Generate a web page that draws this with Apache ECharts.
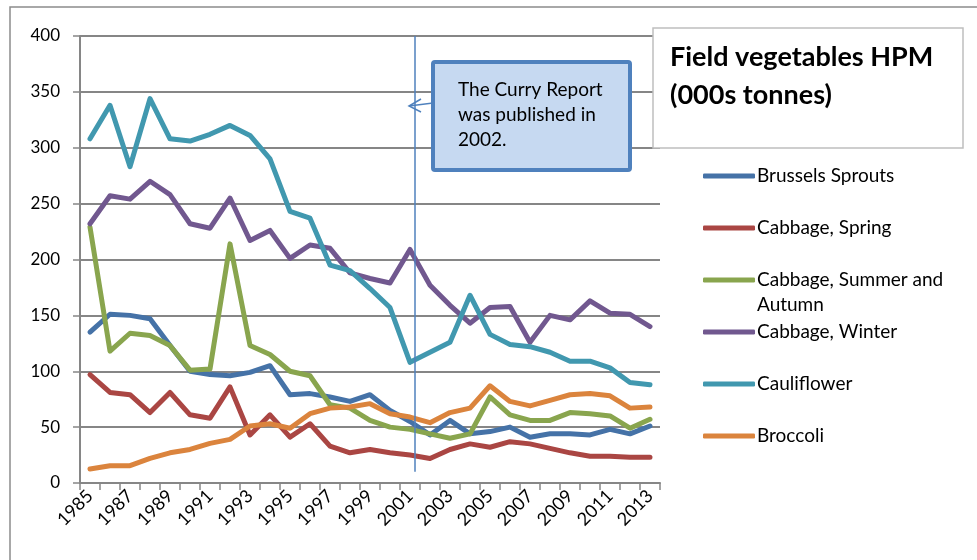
<!DOCTYPE html>
<html>
<head>
<meta charset="utf-8">
<script src="https://cdn.jsdelivr.net/npm/echarts@6/dist/echarts.min.js"></script>
<style>
  html, body { margin: 0; padding: 0; background: #fff; }
  #chart { width: 977px; height: 560px; }
</style>
</head>
<body>
<div id="chart"></div>
<script>
const years = ['1985','1986','1987','1988','1989','1990','1991','1992','1993','1994',
  '1995','1996','1997','1998','1999','2000','2001','2002','2003','2004',
  '2005','2006','2007','2008','2009','2010','2011','2012','2013'];

const brussels = [135,151,150,147,123,100,97,96,99,105,79,80,77,73,79,65,55,43,56,44,46,50,41,44,44,43,48,44,51];
const cabbageSpring = [97,81,79,63,81,61,58,86,43,61,41,53,33,27,30,27,25,22,30,35,32,37,35,31,27,24,24,23,23];
const cabbageSummer = [229,118,134,132,123,101,102,214,123,115,100,96,70,67,56,50,48,44,40,44,77,61,56,56,63,62,60,49,57];
const cabbageWinter = [232,257,254,270,258,232,228,255,217,226,201,213,210,188,183,179,209,177,159,143,157,158,126,150,146,163,152,151,140];
const cauliflower = [308,338,283,344,308,306,312,320,311,290,243,237,195,190,174,157,108,117,126,168,133,124,122,117,109,109,103,90,88];
const broccoli = [12.5,15.5,15.5,22,27,30,35.5,39,51,53,49,62,67,68,71,62,59,54,63,67,87,73,69,74,79,80,78,67,68];

const seriesNames = ['Brussels Sprouts','Cabbage, Spring','Cabbage, Summer and','Cabbage, Winter','Cauliflower','Broccoli'];
const seriesData = [brussels, cabbageSpring, cabbageSummer, cabbageWinter, cauliflower, broccoli];
const colors = ['#4572A7','#AA4643','#89A54E','#71588F','#4198AF','#DB843D'];

const font = 'Lato, "Open Sans", sans-serif';
const gray = '#868686';

const chart = echarts.init(document.getElementById('chart'));

chart.setOption({
  animation: false,
  color: colors,
  textStyle: { fontFamily: font },
  grid: { left: 80, right: 317, top: 36, bottom: 77 },
  legend: {
    orient: 'vertical',
    left: 698,
    top: 161,
    icon: 'roundRect',
    itemWidth: 52,
    itemHeight: 5,
    itemGap: 32,
    selectedMode: false,
    textStyle: { fontSize: 19, color: '#000', lineHeight: 20, fontFamily: font, padding: [0, 0, 0, -3] },
    data: seriesNames
  },
  xAxis: {
    type: 'category',
    data: years,
    boundaryGap: true,
    axisLine: { lineStyle: { color: gray, width: 2 } },
    axisTick: { show: true, interval: 0, length: 7, lineStyle: { color: gray, width: 1.5 } },
    axisLabel: { interval: 1, rotate: 45, fontSize: 18, color: '#000', margin: 10, fontFamily: font },
    splitLine: { show: false }
  },
  yAxis: {
    type: 'value',
    min: 0,
    max: 400,
    interval: 50,
    axisLine: { show: true, lineStyle: { color: gray, width: 2 } },
    axisTick: { show: true, length: 7, lineStyle: { color: gray, width: 1.5 } },
    axisLabel: { fontSize: 17, color: '#000', margin: 20, fontFamily: font },
    splitLine: { lineStyle: { color: gray, width: 2 } }
  },
  series: seriesNames.map((name, i) => ({
    name: name,
    type: 'line',
    data: seriesData[i],
    symbol: 'none',
    lineStyle: { width: 5, cap: 'round', join: 'round' }
  }))
});

// annotation line sits a quarter of a category past 2001
const x2001 = chart.convertToPixel({ xAxisIndex: 0 }, '2001');
const x2002 = chart.convertToPixel({ xAxisIndex: 0 }, '2002');
const lineX = x2001 + (x2002 - x2001) * 0.25;
const yTop = chart.convertToPixel({ yAxisIndex: 0 }, 400);
const yLow = chart.convertToPixel({ yAxisIndex: 0 }, 10);

chart.setOption({
  graphic: [
    // outer chart border
    { type: 'rect', shape: { x: 10, y: 7, width: 1000, height: 600 }, style: { fill: null, stroke: '#8c8c8c', lineWidth: 1.5 }, z: 1, silent: true },
    // Curry report marker
    { type: 'line', shape: { x1: lineX, y1: yTop, x2: lineX, y2: yLow }, style: { stroke: '#4F81BD', lineWidth: 1.5 }, z: 100 },
    { type: 'polyline', shape: { points: [[433, 103], [409, 106]] }, style: { stroke: '#4F81BD', lineWidth: 1.5, fill: null }, z: 100 },
    { type: 'polyline', shape: { points: [[421, 99], [409, 106], [421, 112]] }, style: { stroke: '#4F81BD', lineWidth: 1.5, fill: null }, z: 100 },
    { type: 'rect', shape: { x: 433, y: 62, width: 197, height: 108, r: 2 }, style: { fill: '#C6D9F1', stroke: '#4F81BD', lineWidth: 4 }, z: 100 },
    { type: 'text', left: 458, top: 77, z: 101,
      style: { text: 'The Curry Report\nwas published in\n2002.', font: '19px ' + font, fill: '#000', lineHeight: 25 } },
    // title box
    { type: 'rect', shape: { x: 653, y: 28, width: 310, height: 120 }, style: { fill: '#fff', stroke: '#BFBFBF', lineWidth: 1.5 }, z: 100 },
    { type: 'text', left: 670, top: 38, z: 101,
      style: { text: 'Field vegetables HPM\n(000s tonnes)', font: 'bold 27px ' + font, fill: '#000', lineHeight: 38 } },
    // second line of the wrapped legend label
    { type: 'text', left: 757, top: 295, z: 101,
      style: { text: 'Autumn', font: '19px ' + font, fill: '#000' } }
  ]
});
</script>
</body>
</html>
